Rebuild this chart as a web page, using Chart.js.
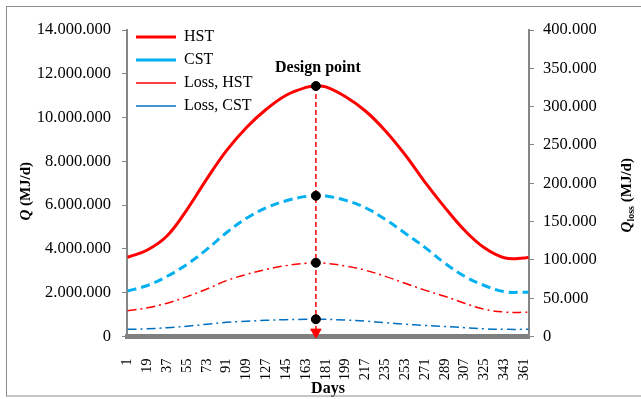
<!DOCTYPE html>
<html>
<head>
<meta charset="utf-8">
<script src="https://cdn.jsdelivr.net/npm/chart.js@4/dist/chart.umd.min.js"></script>
<style>
html,body{margin:0;padding:0;background:#fff;}
#c{display:block;}
</style>
</head>
<body>
<canvas id="c" width="641" height="399"></canvas>
<script>
// ---- data ----
const days     = [1,19,37,55,73,91,109,127,145,163,172,181,199,217,235,253,271,289,307,325,343,361,365];
const hst      = [3620000,3950000,4600000,5800000,7200000,8500000,9550000,10380000,11020000,11380000,11440000,11400000,10950000,10300000,9400000,8300000,7050000,5900000,4850000,4050000,3600000,3580000,3620000];
const cst      = [2080000,2330000,2750000,3300000,3980000,4750000,5400000,5880000,6200000,6400000,6430000,6420000,6220000,5880000,5350000,4720000,4070000,3350000,2750000,2330000,2050000,2020000,2030000];
const lossHst  = [33500,37500,43500,52000,62000,73000,81000,87500,92500,95500,96300,95500,92000,86500,78500,69500,60500,52500,43500,35500,32000,31500,32000];
const lossCst  = [9300,10000,11500,13500,16000,18500,20000,21200,22000,22400,22500,22400,21500,20000,18000,16000,14500,13000,11500,10000,9400,9300,9400];

const seriesNames = ['HST','CST','Loss, HST','Loss, CST'];
const designDay = 172;
const designLabel = 'Design point';
const arrowEnd = 200000;

const xTickDays = [1,19,37,55,73,91,109,127,145,163,181,199,217,235,253,271,289,307,325,343,361];
const leftTickValues = [0,2000000,4000000,6000000,8000000,10000000,12000000,14000000];
const leftTickLabels = ['0','2.000.000','4.000.000','6.000.000','8.000.000','10.000.000','12.000.000','14.000.000'];
const rightTickValues = [0,50000,100000,150000,200000,250000,300000,350000,400000];
const rightTickLabels = ['0','50.000','100.000','150.000','200.000','250.000','300.000','350.000','400.000'];

// ---- build ----
const pts = (arr) => days.map((d, i) => ({x: d, y: arr[i]}));
const di = days.indexOf(designDay);
const SERIF = "'Liberation Serif', 'Times New Roman', serif";

const annot = {
  id: 'annot',
  afterLayout(chart) {
    const ca = chart.chartArea, lg = chart.legend;
    if (lg) {
      lg.left = ca.left + 2; lg.right = lg.left + lg.width;
      lg.top = ca.top - 8;   lg.bottom = lg.top + lg.height;
    }
  },
  afterDraw(chart) {
    const ctx = chart.ctx, ca = chart.chartArea;
    const xs = chart.scales.x, ys = chart.scales.y;
    ctx.save();
    // outer frame
    ctx.strokeStyle = '#8c8c8c'; ctx.lineWidth = 1;
    ctx.strokeRect(6.5, 6.5, 700, 389.5);
    ctx.fillStyle = '#000';
    ctx.textBaseline = 'middle';
    // design point label
    ctx.font = 'bold 16px ' + SERIF;
    ctx.textAlign = 'center';
    ctx.fillText(designLabel, xs.getPixelForValue(designDay) + 2, ys.getPixelForValue(hst[di]) - 18);
    // axis titles (mixed styles)
    const drawRot = (cx, cy, parts) => {
      ctx.save();
      ctx.translate(cx, cy);
      ctx.rotate(-Math.PI / 2);
      ctx.textAlign = 'left';
      let w = 0;
      parts.forEach(p => { ctx.font = p.f; w += ctx.measureText(p.t).width; });
      let x = -w / 2;
      parts.forEach(p => { ctx.font = p.f; ctx.fillText(p.t, x, p.dy || 0); x += ctx.measureText(p.t).width; });
      ctx.restore();
    };
    const mid = (ca.top + ca.bottom) / 2;
    drawRot(26, mid + 8, [
      {t: 'Q', f: 'italic bold 15px ' + SERIF},
      {t: ' (MJ/d)', f: 'bold 15px ' + SERIF}
    ]);
    drawRot(627, mid + 12, [
      {t: 'Q', f: 'italic bold 15px ' + SERIF},
      {t: 'loss', f: 'bold 10px ' + SERIF, dy: 4},
      {t: ' (MJ/d)', f: 'bold 15px ' + SERIF}
    ]);
    ctx.restore();
  }
};

const lineDs = (label, data, color, width, dash, axis, order) => ({
  label, data: pts(data), borderColor: color, backgroundColor: color,
  borderWidth: width, borderDash: dash, yAxisID: axis, pointRadius: 0,
  tension: 0.4, fill: false, order
});

new Chart(document.getElementById('c'), {
  type: 'line',
  data: {
    datasets: [
      lineDs(seriesNames[0], hst, '#FF0000', 3, [], 'y', 3),
      lineDs(seriesNames[1], cst, '#00B0F0', 3, [9, 5], 'y', 4),
      lineDs(seriesNames[2], lossHst, '#FF0000', 1.5, [9, 4, 2, 4], 'y2', 5),
      lineDs(seriesNames[3], lossCst, '#0070C0', 1.5, [9, 4, 2, 4], 'y2', 6),
      { label: 'arrow', data: [{x: designDay, y: hst[di]}, {x: designDay, y: arrowEnd}],
        borderColor: '#FF0000', borderWidth: 1.5, borderDash: [5, 3], yAxisID: 'y',
        pointRadius: [0, 6], pointStyle: 'triangle', pointRotation: 180,
        pointBackgroundColor: '#FF0000', pointBorderColor: '#FF0000', pointBorderWidth: 1,
        clip: false, order: 2 },
      { label: 'dotsL', data: [{x: designDay, y: hst[di]}, {x: designDay, y: cst[di]}],
        showLine: false, yAxisID: 'y', pointRadius: 4.5, pointBackgroundColor: '#000',
        pointBorderColor: '#000', order: 1 },
      { label: 'dotsR', data: [{x: designDay, y: lossHst[di]}, {x: designDay, y: lossCst[di]}],
        showLine: false, yAxisID: 'y2', pointRadius: 4.5, pointBackgroundColor: '#000',
        pointBorderColor: '#000', order: 1 }
    ]
  },
  options: {
    responsive: false,
    animation: false,
    devicePixelRatio: 1,
    layout: { padding: { top: 30, left: 0, right: 0, bottom: 0 } },
    plugins: {
      tooltip: { enabled: false },
      legend: {
        position: 'chartArea',
        align: 'start',
        labels: {
          filter: (item) => item.datasetIndex < 4,
          usePointStyle: true,
          pointStyle: 'line',
          pointStyleWidth: 40,
          padding: 7,
          color: '#000',
          font: { family: SERIF, size: 16 }
        }
      }
    },
    scales: {
      x: {
        type: 'linear', min: 0.5, max: 365.5,
        afterBuildTicks: (axis) => { axis.ticks = xTickDays.map(v => ({value: v})); },
        afterFit: (s) => { s.height = 62.5; },
        ticks: { autoSkip: false, minRotation: 90, maxRotation: 90, padding: 14,
                 color: '#000', font: { family: SERIF, size: 14.5 },
                 callback: (v) => String(v) },
        grid: { display: false },
        border: { display: true, color: '#808080', width: 5 },
        title: { display: true, text: 'Days', color: '#000',
                 font: { family: SERIF, size: 16, weight: 'bold' }, padding: { top: 0, bottom: 1 } }
      },
      y: {
        position: 'left', min: 0, max: 14000000,
        afterBuildTicks: (axis) => { axis.ticks = leftTickValues.map(v => ({value: v})); },
        afterFit: (s) => { s.width = 127; },
        ticks: { padding: 11, color: '#000', font: { family: SERIF, size: 16.5 },
                 callback: (v) => leftTickLabels[leftTickValues.indexOf(v)] },
        grid: { drawOnChartArea: false, drawTicks: true, tickLength: 5, color: '#868686', lineWidth: 1 },
        border: { display: true, color: '#868686', width: 2 }
      },
      y2: {
        position: 'right', min: 0, max: 400000,
        afterBuildTicks: (axis) => { axis.ticks = rightTickValues.map(v => ({value: v})); },
        afterFit: (s) => { s.width = 112; },
        ticks: { padding: 9, color: '#000', font: { family: SERIF, size: 16.5 },
                 callback: (v) => rightTickLabels[rightTickValues.indexOf(v)] },
        grid: { drawOnChartArea: false, drawTicks: true, tickLength: 5, color: '#868686', lineWidth: 1 },
        border: { display: true, color: '#868686', width: 2 }
      }
    }
  },
  plugins: [annot]
});
</script>
</body>
</html>
